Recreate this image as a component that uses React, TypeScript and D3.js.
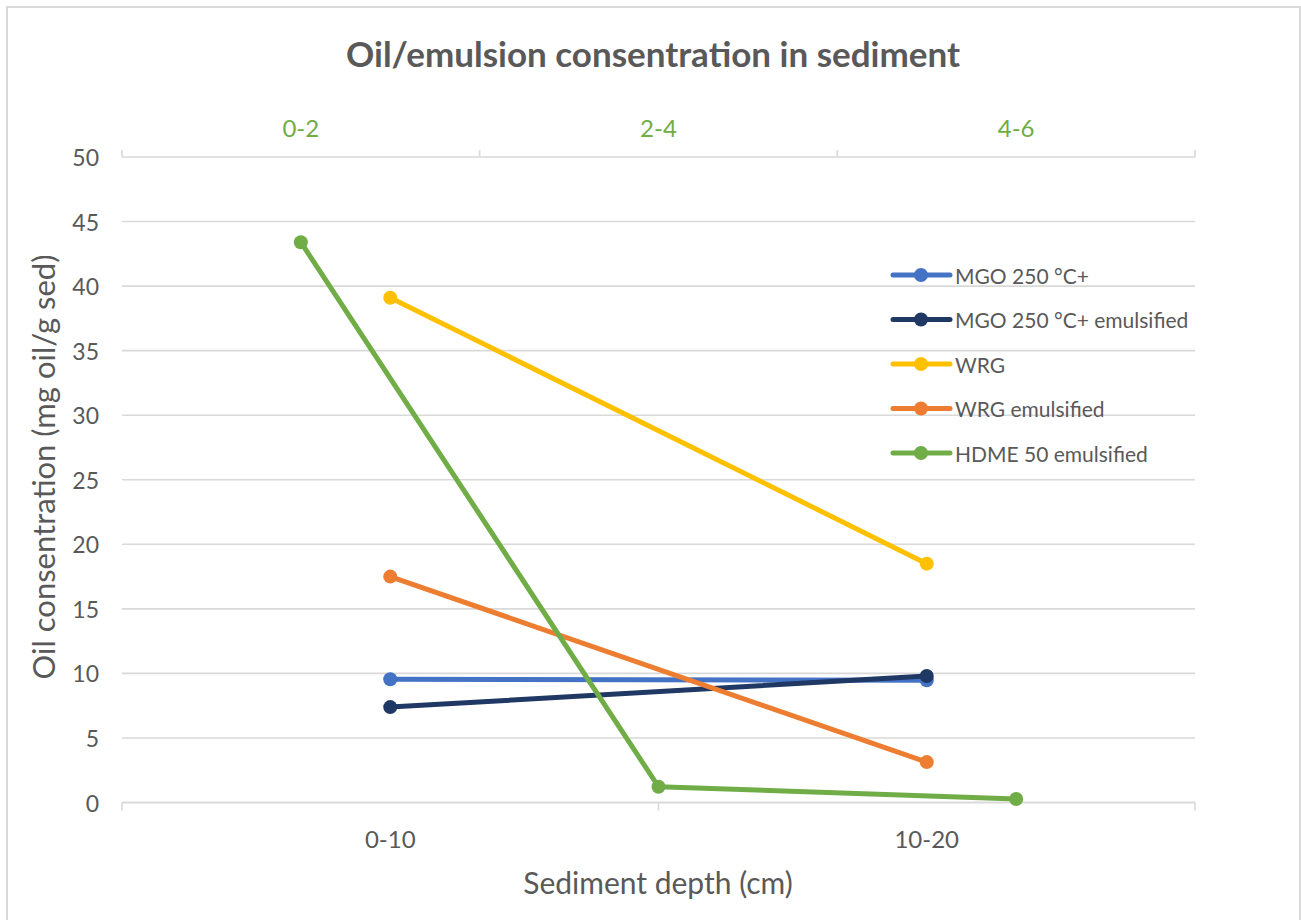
import React from "react";
import * as d3 from "d3";

const depthCats = ["0-10", "10-20"];
const depthCatsTop = ["0-2", "2-4", "4-6"];
const yTicks = [0, 5, 10, 15, 20, 25, 30, 35, 40, 45, 50];

const seriesNames = [
  "MGO 250 °C+",
  "MGO 250 °C+ emulsified",
  "WRG",
  "WRG emulsified",
  "HDME 50 emulsified",
];
const seriesColors = ["#4472C4", "#203864", "#FFC000", "#ED7D31", "#70AD47"];

const mgo = [9.55, 9.47];
const mgoEmulsified = [7.39, 9.8];
const wrg = [39.1, 18.5];
const wrgEmulsified = [17.5, 3.13];
const hdmeEmulsified = [43.4, 1.22, 0.27];

const W = 1301;
const H = 920;
const FONT = "Lato, 'Open Sans', sans-serif";
const GRAY = "#595959";

export default function App() {
  const left = 122;
  const right = 1195;
  const top = 157;
  const bottom = 802.5;

  const x = d3.scaleBand<string>().domain(depthCats).range([left, right]).padding(0);
  const x2 = d3.scaleBand<string>().domain(depthCatsTop).range([left, right]).padding(0);
  const y = d3.scaleLinear().domain([0, 50]).range([bottom, top]);

  const primary = [mgo, mgoEmulsified, wrg, wrgEmulsified];
  const line = d3
    .line<[number, number]>()
    .x((d) => d[0])
    .y((d) => d[1]);

  const primaryPts = primary.map((vals) =>
    vals.map((v, i) => [x(depthCats[i])! + x.bandwidth() / 2, y(v)] as [number, number])
  );
  const secondaryPts = hdmeEmulsified.map(
    (v, i) => [x2(depthCatsTop[i])! + x2.bandwidth() / 2, y(v)] as [number, number]
  );
  const allPts = [...primaryPts, secondaryPts];

  const bottomTicks = [left, ...depthCats.map((c) => x(c)! + x.bandwidth())];
  const topTicks = [left, ...depthCatsTop.map((c) => x2(c)! + x2.bandwidth())];

  const legendX = 893;
  const legendY0 = 275;
  const legendStep = 44.5;

  return (
    <svg width={W} height={H} style={{ display: "block", position: "absolute", left: 0, top: 0 }}>
      <rect x={0} y={0} width={W} height={H} fill="#fff" />
      <path d={`M7,${H} V7 H1300 V${H}`} fill="none" stroke="#d9d9d9" strokeWidth={2} />

      <text x={653} y={53} textAnchor="middle" dominantBaseline="central" fontFamily={FONT} fontWeight="bold" fontSize={35} fill={GRAY}>
        Oil/emulsion consentration in sediment
      </text>

      {/* gridlines */}
      {yTicks.map((t) => (
        <line key={t} x1={left} x2={right} y1={y(t)} y2={y(t)} stroke="#d9d9d9" strokeWidth={t === 0 ? 2 : 1.6} />
      ))}
      {/* bottom ticks */}
      {bottomTicks.map((t, i) => (
        <line key={"bt" + i} x1={t} x2={t} y1={bottom} y2={bottom + 8} stroke="#d9d9d9" strokeWidth={1.6} />
      ))}
      {/* top ticks */}
      {topTicks.map((t, i) => (
        <line key={"tt" + i} x1={t} x2={t} y1={top} y2={top - 7} stroke="#d9d9d9" strokeWidth={1.6} />
      ))}

      {/* y tick labels */}
      {yTicks.map((t) => (
        <text key={"yl" + t} x={99} y={y(t)} textAnchor="end" dominantBaseline="central" fontFamily={FONT} fontSize={23} fill={GRAY}>
          {t}
        </text>
      ))}
      {/* bottom labels */}
      {depthCats.map((c) => (
        <text key={"bl" + c} x={x(c)! + x.bandwidth() / 2} y={838} textAnchor="middle" dominantBaseline="central" fontFamily={FONT} fontSize={24} fill={GRAY}>
          {c}
        </text>
      ))}
      {/* top labels */}
      {depthCatsTop.map((c) => (
        <text key={"tl" + c} x={x2(c)! + x2.bandwidth() / 2} y={127} textAnchor="middle" dominantBaseline="central" fontFamily={FONT} fontSize={24} fill="#70AD47">
          {c}
        </text>
      ))}

      <text x={658} y={882} textAnchor="middle" dominantBaseline="central" fontFamily={FONT} fontSize={30} fill={GRAY}>
        Sediment depth (cm)
      </text>
      <text transform={`translate(43,467) rotate(-90)`} textAnchor="middle" dominantBaseline="central" fontFamily={FONT} fontSize={31} fill={GRAY}>
        Oil consentration (mg oil/g sed)
      </text>

      {/* series */}
      {allPts.map((pts, si) => (
        <g key={"s" + si}>
          <path d={line(pts)!} fill="none" stroke={seriesColors[si]} strokeWidth={5} strokeLinejoin="round" strokeLinecap="round" />
          {pts.map((p, j) => (
            <circle key={j} cx={p[0]} cy={p[1]} r={7} fill={seriesColors[si]} />
          ))}
        </g>
      ))}

      {/* legend */}
      {seriesNames.map((n, i) => {
        const ly = legendY0 + i * legendStep;
        return (
          <g key={"lg" + i}>
            <line x1={legendX} x2={legendX + 57} y1={ly} y2={ly} stroke={seriesColors[i]} strokeWidth={5} strokeLinecap="round" />
            <circle cx={legendX + 28} cy={ly} r={7} fill={seriesColors[i]} />
            <text x={legendX + 62} y={ly} dominantBaseline="central" fontFamily={FONT} fontSize={21} fill={GRAY}>
              {n}
            </text>
          </g>
        );
      })}
    </svg>
  );
}
